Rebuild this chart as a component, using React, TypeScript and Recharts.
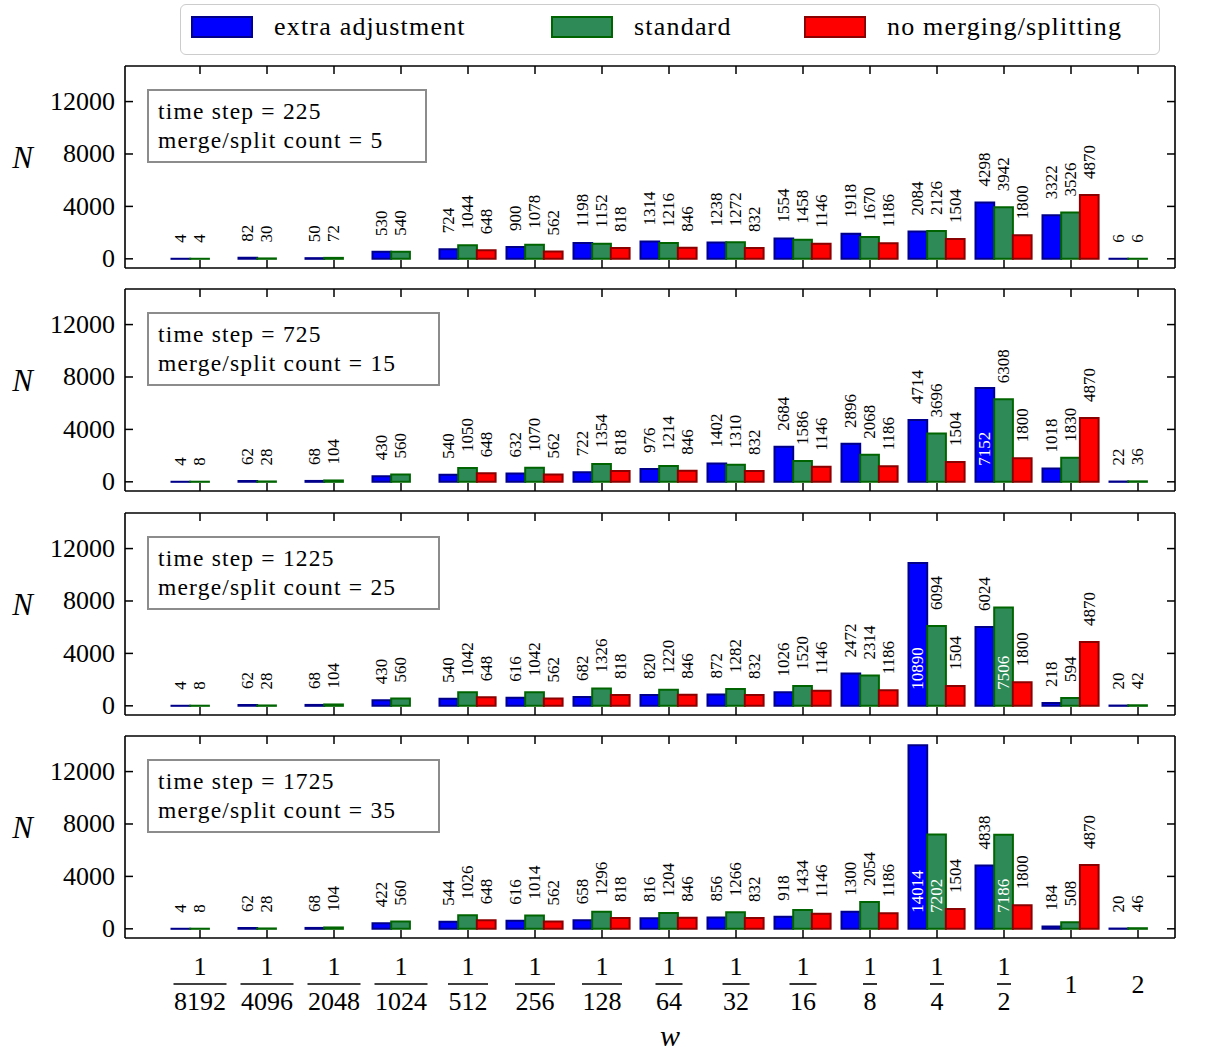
import React from 'react';
import { BarChart, Bar, XAxis, YAxis, LabelList, Legend, Label } from 'recharts';

const SERIF = '"Liberation Serif", "Times New Roman", serif';

// bin widths w
const W_LABELS = ['1/8192', '1/4096', '1/2048', '1/1024', '1/512', '1/256', '1/128', '1/64', '1/32', '1/16', '1/8', '1/4', '1/2', '1', '2'];

// N per bin, "extra adjustment" scheme, one list per time step
const EXTRA_225 = [4, 82, 50, 530, 724, 900, 1198, 1314, 1238, 1554, 1918, 2084, 4298, 3322, 6];
const EXTRA_725 = [4, 62, 68, 430, 540, 632, 722, 976, 1402, 2684, 2896, 4714, 7152, 1018, 22];
const EXTRA_1225 = [4, 62, 68, 430, 540, 616, 682, 820, 872, 1026, 2472, 10890, 6024, 218, 20];
const EXTRA_1725 = [4, 62, 68, 422, 544, 616, 658, 816, 856, 918, 1300, 14014, 4838, 184, 20];

// N per bin, "standard" scheme
const STANDARD_225 = [4, 30, 72, 540, 1044, 1078, 1152, 1216, 1272, 1458, 1670, 2126, 3942, 3526, 6];
const STANDARD_725 = [8, 28, 104, 560, 1050, 1070, 1354, 1214, 1310, 1586, 2068, 3696, 6308, 1830, 36];
const STANDARD_1225 = [8, 28, 104, 560, 1042, 1042, 1326, 1220, 1282, 1520, 2314, 6094, 7506, 594, 42];
const STANDARD_1725 = [8, 28, 104, 560, 1026, 1014, 1296, 1204, 1266, 1434, 2054, 7202, 7186, 508, 46];

// N per bin without merging/splitting (unchanged over time)
const NO_MERGE = [null, null, null, null, 648, 562, 818, 846, 832, 1146, 1186, 1504, 1800, 4870, null];

const TIME_STEPS = [225, 725, 1225, 1725];
const MERGE_COUNTS = [5, 15, 25, 35];
const EXTRA = [EXTRA_225, EXTRA_725, EXTRA_1225, EXTRA_1725];
const STANDARD = [STANDARD_225, STANDARD_725, STANDARD_1225, STANDARD_1725];

const Y_TICKS = [0, 4000, 8000, 12000];

const SERIES = [
  { key: 'extra', name: 'extra adjustment', fill: '#0000ff', stroke: '#00008b' },
  { key: 'standard', name: 'standard', fill: '#2e8b57', stroke: '#006400' },
  { key: 'none', name: 'no merging/splitting', fill: '#ff0000', stroke: '#8b0000' },
];

// shared y range with a 5% margin around the data
const allValues = [...EXTRA.flat(), ...STANDARD.flat(), ...NO_MERGE].filter((v) => v != null) as number[];
const Y_MAX = Math.max(...allValues);
const Y_DOMAIN: [number, number] = [-0.05 * Y_MAX, Y_MAX * 1.05];
const INSIDE_LABEL_MIN = 7000;

// layout
const FIG_W = 1219;
const PLOT_LEFT = 125;
const PLOT_RIGHT = 1175;
const PLOT_H = 202;
const FIRST_TOP = 66;
const PANEL_STEP = 223.3;
const LEFT_AXIS_W = 120;
const RIGHT_AXIS_W = 10;
const TOP_AXIS_H = 2;
const LEGEND_H = 51;
const BAR_W = 18.7;
const TICK_LEN = 8;

const makeRows = (p: number) =>
  W_LABELS.map((w, i) => ({ w, extra: EXTRA[p][i], standard: STANDARD[p][i], none: NO_MERGE[i] }));

const LeftTick = (props: any) => {
  const { x, y, payload } = props;
  return (
    <g>
      <line x1={x} x2={x + TICK_LEN} y1={y} y2={y} stroke="#000" strokeWidth={1.5} />
      <text x={x - 10} y={y} textAnchor="end" dominantBaseline="central" fontFamily={SERIF} fontSize={26} fill="#000">
        {payload.value}
      </text>
    </g>
  );
};

const RightTick = (props: any) => {
  const { x, y } = props;
  return <line x1={x} x2={x - TICK_LEN} y1={y} y2={y} stroke="#000" strokeWidth={1.5} />;
};

const TopTick = (props: any) => {
  const { x, y } = props;
  return <line x1={x} x2={x} y1={y} y2={y + TICK_LEN} stroke="#000" strokeWidth={1.5} />;
};

const BottomTick = (props: any) => {
  const { x, y } = props;
  return <line x1={x} x2={x} y1={y} y2={y - TICK_LEN} stroke="#000" strokeWidth={1.5} />;
};

const FractionTick = (props: any) => {
  const { x, y, payload } = props;
  const [num, den] = String(payload.value).split('/');
  const common = { fontFamily: SERIF, fontSize: 26, fill: '#000', textAnchor: 'middle' as const };
  if (!den) {
    return (
      <g>
        <line x1={x} x2={x} y1={y} y2={y - TICK_LEN} stroke="#000" strokeWidth={1.5} />
        <text x={x} y={y + 55} {...common}>{num}</text>
      </g>
    );
  }
  const half = (den.length * 13 + 1) / 2;
  return (
    <g>
      <line x1={x} x2={x} y1={y} y2={y - TICK_LEN} stroke="#000" strokeWidth={1.5} />
      <text x={x} y={y + 37} {...common}>{num}</text>
      <line x1={x - half} x2={x + half} y1={y + 46} y2={y + 46} stroke="#000" strokeWidth={1.6} />
      <text x={x} y={y + 72} {...common}>{den}</text>
    </g>
  );
};

const BarValue = (props: any) => {
  const { x, y, width, height, value } = props;
  if (value == null) return null;
  const cx = Number(x) + Number(width) / 2;
  const inside = Number(value) > INSIDE_LABEL_MIN;
  const ty = inside ? Number(y) + Number(height) - 16 : Number(y) - 16;
  return (
    <text
      x={cx}
      y={ty}
      transform={`rotate(-90 ${cx} ${ty})`}
      textAnchor="start"
      dominantBaseline="central"
      fontFamily={SERIF}
      fontSize={17}
      fill={inside ? '#ffffff' : '#000000'}
    >
      {value}
    </text>
  );
};

const renderN = (props: any) => {
  const vb = props.viewBox;
  return (
    <text x={vb.x + 17.5} y={vb.y + 102} textAnchor="middle" fontFamily={SERIF} fontStyle="italic" fontSize={31} fill="#000">
      N
    </text>
  );
};

const renderW = (props: any) => {
  const vb = props.viewBox;
  return (
    <text x={vb.x + vb.width / 2 + 20} y={vb.y + 108} textAnchor="middle" fontFamily={SERIF} fontStyle="italic" fontSize={30} fill="#000">
      w
    </text>
  );
};

const LEGEND_ITEM_LEFT = [10, 370, 623];

const LegendBox = () => (
  <div
    style={{
      boxSizing: 'border-box',
      width: 980,
      height: LEGEND_H,
      border: '1.5px solid #cccccc',
      borderRadius: 6,
      background: '#fff',
      position: 'relative',
      fontFamily: SERIF,
      fontSize: 26,
      color: '#000',
    }}
  >
    {SERIES.map((s, i) => (
      <div
        key={s.key}
        style={{ position: 'absolute', left: LEGEND_ITEM_LEFT[i], top: 9, height: 26, display: 'flex', alignItems: 'center' }}
      >
        <div style={{ width: 62, height: 22, boxSizing: 'border-box', background: s.fill, border: `2px solid ${s.stroke}` }} />
        <span style={{ marginLeft: 21, letterSpacing: 1.2, whiteSpace: 'nowrap', lineHeight: '26px' }}>{s.name}</span>
      </div>
    ))}
  </div>
);

const Panel = ({ p }: { p: number }) => {
  const first = p === 0;
  const last = p === TIME_STEPS.length - 1;
  const plotTop = FIRST_TOP + p * PANEL_STEP;
  const containerTop = first ? 0 : plotTop - 20;
  const marginTop = first ? FIRST_TOP - TOP_AXIS_H - LEGEND_H : 20 - TOP_AXIS_H;
  const bottomAxisH = last ? 115 : 10;
  const height = plotTop - containerTop + PLOT_H + bottomAxisH;
  const rows = makeRows(p);
  const bandPad = { left: 41.5, right: 3.5 };

  return (
    <div style={{ position: 'absolute', left: 0, top: containerTop, width: FIG_W, height }}>
      <BarChart
        width={FIG_W}
        height={height}
        data={rows}
        barGap={0}
        margin={{ top: marginTop, right: FIG_W - PLOT_RIGHT - RIGHT_AXIS_W, bottom: 0, left: PLOT_LEFT - LEFT_AXIS_W }}
      >
        {first && (
          <Legend
            verticalAlign="top"
            align="center"
            layout="horizontal"
            wrapperStyle={{ position: 'absolute', top: 4, left: 180, width: 980, height: LEGEND_H }}
            content={LegendBox}
          />
        )}
        <XAxis
          xAxisId="bottom"
          dataKey="w"
          type="category"
          orientation="bottom"
          height={bottomAxisH}
          padding={bandPad}
          interval={0}
          tickSize={0}
          tickMargin={0}
          tickLine={false}
          axisLine={{ stroke: '#000', strokeWidth: 1.6 }}
          tick={last ? <FractionTick /> : <BottomTick />}
        >
          {last && <Label content={renderW} />}
        </XAxis>
        <XAxis
          xAxisId="top"
          dataKey="w"
          type="category"
          orientation="top"
          height={TOP_AXIS_H}
          padding={bandPad}
          interval={0}
          tickSize={0}
          tickMargin={0}
          tickLine={false}
          axisLine={{ stroke: '#000', strokeWidth: 1.6 }}
          tick={<TopTick />}
        />
        <YAxis
          yAxisId="left"
          orientation="left"
          width={LEFT_AXIS_W}
          domain={Y_DOMAIN}
          allowDataOverflow
          ticks={Y_TICKS}
          interval={0}
          tickSize={0}
          tickMargin={0}
          tickLine={false}
          axisLine={{ stroke: '#000', strokeWidth: 1.6 }}
          tick={<LeftTick />}
        >
          <Label content={renderN} />
        </YAxis>
        <YAxis
          yAxisId="right"
          orientation="right"
          width={RIGHT_AXIS_W}
          domain={Y_DOMAIN}
          allowDataOverflow
          ticks={Y_TICKS}
          interval={0}
          tickSize={0}
          tickMargin={0}
          tickLine={false}
          axisLine={{ stroke: '#000', strokeWidth: 1.6 }}
          tick={<RightTick />}
        />
        {SERIES.map((s) => (
          <Bar
            key={s.key}
            dataKey={s.key}
            name={s.name}
            xAxisId="bottom"
            yAxisId="left"
            barSize={BAR_W}
            fill={s.fill}
            stroke={s.stroke}
            strokeWidth={2}
            isAnimationActive={false}
          >
            <LabelList dataKey={s.key} content={BarValue} />
          </Bar>
        ))}
      </BarChart>
      <div
        style={{
          position: 'absolute',
          left: 147,
          top: plotTop + 23 - containerTop,
          boxSizing: 'border-box',
          border: '2px solid #8c8c8c',
          background: '#fff',
          padding: '6px 42px 6px 9px',
          fontFamily: SERIF,
          fontSize: 23.5,
          lineHeight: '29px',
          letterSpacing: 1.2,
          whiteSpace: 'nowrap',
          color: '#000',
        }}
      >
        <div>time step = {TIME_STEPS[p]}</div>
        <div>merge/split count = {MERGE_COUNTS[p]}</div>
      </div>
    </div>
  );
};

export default function App() {
  return (
    <div style={{ position: 'absolute', left: 0, top: 0, width: FIG_W, height: 1054, background: '#fff' }}>
      {TIME_STEPS.map((_, p) => (
        <Panel key={p} p={p} />
      ))}
    </div>
  );
}
